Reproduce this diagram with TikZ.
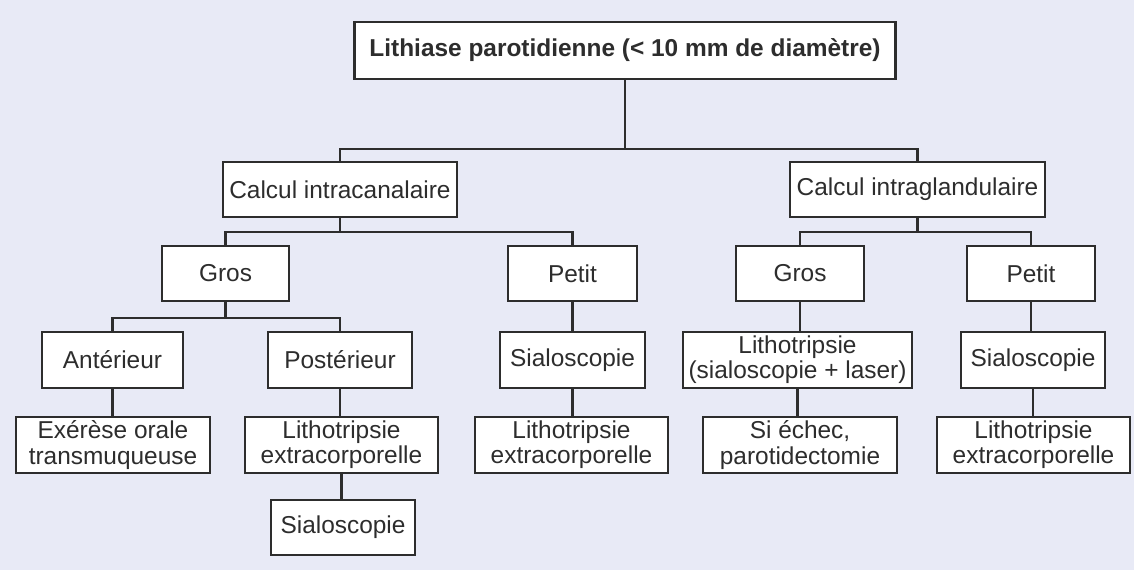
\documentclass[tikz,border=0pt]{standalone}
\usepackage{fontspec}
\setmainfont{Liberation Sans}
\usetikzlibrary{positioning}
\definecolor{bglav}{RGB}{232,234,246}
\definecolor{inkgray}{RGB}{45,45,45}
\tikzset{
    % Tree boxes
    tbox/.style={rectangle, draw=inkgray, fill=white, line width=1.3pt,
                minimum height=1.1cm, inner sep=1pt, align=center, text=inkgray,
                font=\fontsize{13.9}{14.4}\selectfont},
    troot/.style={tbox, minimum height=1.14cm,
                font=\fontsize{13.9}{14.4}\selectfont\bfseries},
    % Connectors
    tline/.style={draw=inkgray, line width=1.3pt},
}
\begin{document}
\begin{tikzpicture}

\fill[bglav] (0,0) rectangle (22.68,-11.4);
\useasboundingbox (0,0) rectangle (22.68,-11.4);

\node[troot, minimum width=10.82cm] (root) at (12.5,-1.01) {Lithiase parotidienne (< 10 mm de diamètre)};

% Level 1 - location
\node[tbox, minimum width=4.68cm] (cin) at (6.8,-3.79)  {Calcul intracanalaire};
\node[tbox, minimum width=5.1cm]  (cgl) at (18.35,-3.79) {Calcul intraglandulaire};

% Level 2 - size
\node[tbox, minimum width=2.54cm] (gros1)  at (4.51,-5.47)  {Gros};
\node[tbox, minimum width=2.58cm] (petit1) at (11.45,-5.47) {Petit};
\node[tbox, minimum width=2.56cm] (gros2)  at (16.0,-5.47)  {Gros};
\node[tbox, minimum width=2.56cm] (petit2) at (20.62,-5.47) {Petit};

% Level 3
\node[tbox, minimum width=2.82cm, minimum height=1.12cm] (ant)   at (2.25,-7.2)  {Antérieur};
\node[tbox, minimum width=2.88cm, minimum height=1.12cm] (post)  at (6.8,-7.2)   {Postérieur};
\node[tbox, minimum width=2.9cm,  minimum height=1.12cm] (sia1)  at (11.45,-7.2) {Sialoscopie};
\node[tbox, minimum width=4.58cm, minimum height=1.12cm] (laser) at (15.95,-7.2) {Lithotripsie\\(sialoscopie + laser)};
\node[tbox, minimum width=2.88cm, minimum height=1.12cm] (sia2)  at (20.66,-7.2) {Sialoscopie};

% Level 4
\node[tbox, minimum width=3.88cm, minimum height=1.12cm] (exo)  at (2.26,-8.9)  {Exérèse orale\\transmuqueuse};
\node[tbox, minimum width=3.86cm, minimum height=1.12cm] (lit1) at (6.83,-8.9)  {Lithotripsie\\extracorporelle};
\node[tbox, minimum width=3.86cm, minimum height=1.12cm] (lit2) at (11.43,-8.9) {Lithotripsie\\extracorporelle};
\node[tbox, minimum width=3.88cm, minimum height=1.12cm] (ech)  at (16.0,-8.9)  {Si échec,\\parotidectomie};
\node[tbox, minimum width=3.86cm, minimum height=1.12cm] (lit3) at (20.67,-8.9) {Lithotripsie\\extracorporelle};

% Level 5
\node[tbox, minimum width=2.88cm] (sia3) at (6.86,-10.55) {Sialoscopie};

% Branches
\draw[tline] (root.south) -- ++(0,-1.38) -| (cin.north);
\draw[tline] (root.south) -- ++(0,-1.38) -| (cgl.north);
\draw[tline] (cin.south) -- ++(0,-0.28) -| (gros1.north);
\draw[tline] (cin.south) -- ++(0,-0.28) -| (petit1.north);
\draw[tline] (cgl.south) -- ++(0,-0.28) -| (gros2.north);
\draw[tline] (cgl.south) -- ++(0,-0.28) -| (petit2.north);
\draw[tline] (gros1.south) -- ++(0,-0.32) -| (ant.north);
\draw[tline] (gros1.south) -- ++(0,-0.32) -| (post.north);

% Straight links
\draw[tline] (ant.south) -- (ant.south |- exo.north);
\draw[tline] (post.south) -- (post.south |- lit1.north);
\draw[tline] (lit1.south) -- (lit1.south |- sia3.north);
\draw[tline] (petit1.south) -- (petit1.south |- sia1.north);
\draw[tline] (sia1.south) -- (sia1.south |- lit2.north);
\draw[tline] (gros2.south) -- (gros2.south |- laser.north);
\draw[tline] (laser.south) -- (laser.south |- ech.north);
\draw[tline] (petit2.south) -- (petit2.south |- sia2.north);
\draw[tline] (sia2.south) -- (sia2.south |- lit3.north);
\end{tikzpicture}
\end{document}
